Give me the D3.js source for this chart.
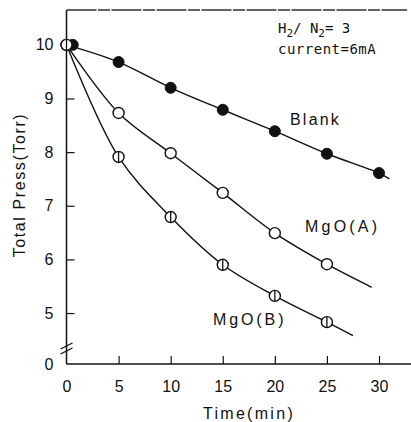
<!DOCTYPE html>
<html><head><meta charset="utf-8">
<script src="https://cdn.jsdelivr.net/npm/d3@7"></script>
<style>
body{margin:0;background:#fff;}
text{font-family:"Liberation Sans",Arial,sans-serif;fill:#111;}
</style></head>
<body><svg id="c" width="411" height="422"></svg>
<script>
// ---- data ----
const blankTime = [0.6, 5, 10, 15, 20, 25, 30];
const blankPress = [10, 9.68, 9.2, 8.79, 8.39, 7.97, 7.61];
const blankFitEnd = [31, 7.5];
const mgoATime = [0, 5, 10, 15, 20, 25];
const mgoAPress = [10, 8.73, 7.98, 7.24, 6.49, 5.91];
const mgoAFitEnd = [29.3, 5.48];
const mgoBTime = [0, 5, 10, 15, 20, 25];
const mgoBPress = [10, 7.91, 6.79, 5.9, 5.32, 4.83];
const mgoBFitEnd = [27.5, 4.58];
const xTicks = [0, 5, 10, 15, 20, 25, 30];
const yTicks = [5, 6, 7, 8, 9, 10];
const yBreakValue = 4.05; // axis bottom shown as "0" after the break

const svg = d3.select("#c");
const x = d3.scaleLinear().domain([0, 30]).range([66.5, 379]);
const y = d3.scaleLinear().domain([yBreakValue, 10.65]).range([364, 10]);

// frame lines
svg.append("line").attr("x1", x(0)).attr("x2", x(0)).attr("y1", y(10.65)).attr("y2", y(yBreakValue))
  .attr("stroke", "#111").attr("stroke-width", 1.5);
svg.append("line").attr("x1", x(0)).attr("x2", x(32.7)).attr("y1", y(10.65)).attr("y2", y(10.65))
  .attr("stroke", "#333").attr("stroke-width", 1.3).attr("stroke-dasharray", "30,1.5,12,1.5");
svg.append("line").attr("x1", x(0)).attr("x2", 411).attr("y1", y(yBreakValue)).attr("y2", y(yBreakValue))
  .attr("stroke", "#111").attr("stroke-width", 1.5);

// axes
const yAxis = d3.axisLeft(y).tickValues([yBreakValue].concat(yTicks))
  .tickFormat(d => d < 5 ? "0" : d).tickSize(-8).tickPadding(13);
const gy = svg.append("g").attr("transform", `translate(${x(0)},0)`).call(yAxis);
gy.select(".domain").remove();
gy.selectAll("text").attr("font-size", 16).style("font-family", "Liberation Sans, sans-serif").attr("fill", "#222");
gy.selectAll(".tick line").attr("stroke", "#111").attr("stroke-width", 1.2)
  .attr("opacity", d => d < 5 ? 0 : 1);

const xAxis = d3.axisBottom(x).tickValues(xTicks).tickSize(-8).tickPadding(17);
const gx = svg.append("g").attr("transform", `translate(0,${y(yBreakValue)})`).call(xAxis);
gx.select(".domain").remove();
gx.selectAll("text").attr("font-size", 16).style("font-family", "Liberation Sans, sans-serif").attr("fill", "#222");
gx.selectAll(".tick line").attr("stroke", "#111").attr("stroke-width", 1.2)
  .attr("opacity", d => d === 0 ? 0 : 1);

// axis break marks
[0, 5].forEach(o => {
  svg.append("line").attr("x1", x(0) - 6).attr("x2", x(0) + 6)
    .attr("y1", 351 - o + 3).attr("y2", 351 - o - 3)
    .attr("stroke", "#111").attr("stroke-width", 1.3);
});

// axis labels
svg.append("text").attr("x", 249).attr("y", 419).attr("text-anchor", "middle")
  .attr("font-size", 16).attr("letter-spacing", 2.3).text("Time(min)");
svg.append("text").attr("transform", "translate(25,185) rotate(-90)").attr("text-anchor", "middle")
  .attr("font-size", 16).attr("letter-spacing", 1.6).text("Total Press(Torr)");

// fitted curves
const line = d3.line().x(d => x(d[0])).y(d => y(d[1])).curve(d3.curveCatmullRom.alpha(0.5));
const series = [
  {t: [0].concat(blankTime.slice(1)), p: blankPress, end: blankFitEnd},
  {t: mgoATime, p: mgoAPress, end: mgoAFitEnd},
  {t: mgoBTime, p: mgoBPress, end: mgoBFitEnd}
];
series.forEach(s => {
  const pts = s.t.map((t, i) => [t, s.p[i]]).concat([s.end]);
  svg.append("path").attr("d", line(pts)).attr("fill", "none")
    .attr("stroke", "#111").attr("stroke-width", 1.4);
});

// markers
const r = 5.5;
svg.selectAll(".blank").data(blankTime.map((t, i) => [t, blankPress[i]])).enter()
  .append("circle").attr("cx", d => x(d[0])).attr("cy", d => y(d[1])).attr("r", r)
  .attr("fill", "#111").attr("stroke", "#111");
svg.selectAll(".mgoa").data(mgoATime.map((t, i) => [t, mgoAPress[i]])).enter()
  .append("circle").attr("cx", d => x(d[0])).attr("cy", d => y(d[1])).attr("r", r)
  .attr("fill", "#fff").attr("stroke", "#111").attr("stroke-width", 1.4);
const gb = svg.selectAll(".mgob").data(mgoBTime.map((t, i) => [t, mgoBPress[i]])).enter()
  .append("g").attr("transform", d => `translate(${x(d[0])},${y(d[1])})`);
gb.append("circle").attr("r", r).attr("fill", "#fff").attr("stroke", "#111").attr("stroke-width", 1.4);
gb.append("line").attr("x1", 0).attr("x2", 0).attr("y1", -r).attr("y2", r)
  .attr("stroke", "#111").attr("stroke-width", 1.3);

// series labels
svg.append("text").attr("x", 290).attr("y", 125).attr("font-size", 16).attr("letter-spacing", 2.2).text("Blank");
svg.append("text").attr("x", 305).attr("y", 232).attr("font-size", 16).attr("letter-spacing", 3.2).text("MgO(A)");
svg.append("text").attr("x", 213).attr("y", 325).attr("font-size", 16).attr("letter-spacing", 2.9).text("MgO(B)");

// conditions annotation
const t1 = svg.append("text").attr("x", 278).attr("y", 33).attr("font-size", 14).style("font-family", "DejaVu Sans Mono, monospace");
t1.append("tspan").text("H");
t1.append("tspan").attr("font-size", 11).attr("dy", 4).text("2");
t1.append("tspan").attr("dy", -4).text("/ N");
t1.append("tspan").attr("font-size", 11).attr("dy", 4).text("2");
t1.append("tspan").attr("dy", -4).text("= 3");
svg.append("text").attr("x", 278).attr("y", 54).attr("font-size", 14).attr("letter-spacing", 0.5)
  .style("font-family", "DejaVu Sans Mono, monospace").text("current=6mA");
</script></body></html>
